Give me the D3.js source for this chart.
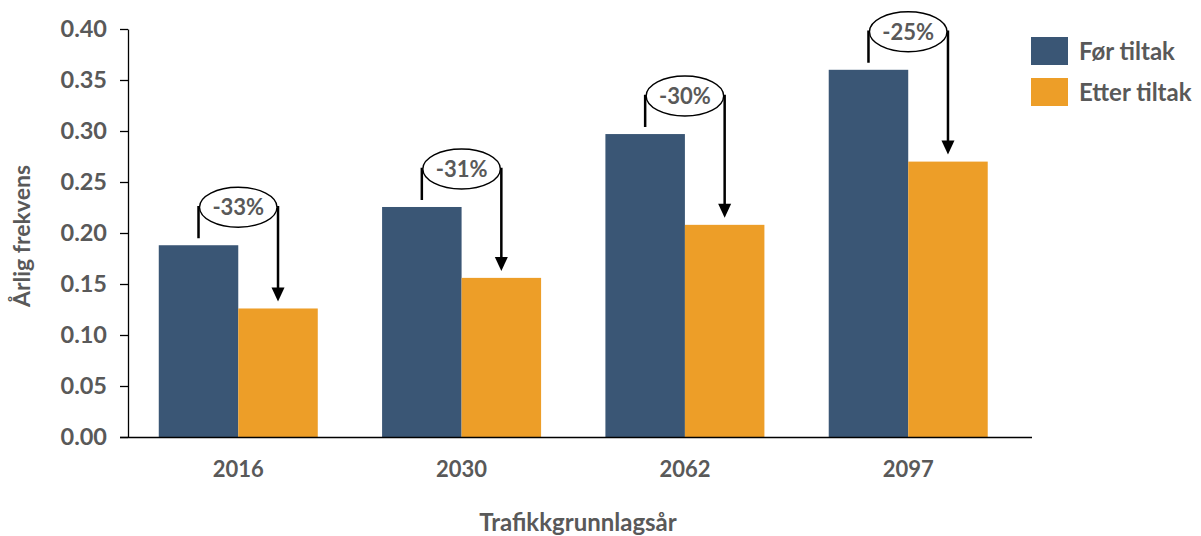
<!DOCTYPE html>
<html>
<head>
<meta charset="utf-8">
<script src="https://cdn.jsdelivr.net/npm/d3@7"></script>
<style>
  html, body { margin: 0; padding: 0; background: #fff; }
  svg { display: block; font-family: Lato, "Open Sans", sans-serif; font-weight: bold; }
</style>
</head>
<body>
<svg id="chart" width="1201" height="536"></svg>
<script>
// Annual frequency per traffic base year, before and after measures
const years = ["2016", "2030", "2062", "2097"];
const seriesNames = ["Før tiltak", "Etter tiltak"];
const beforeValues = [0.188, 0.2255, 0.297, 0.36];
const afterValues = [0.126, 0.156, 0.208, 0.27];
const changeLabels = ["-33%", "-31%", "-30%", "-25%"];
const yTicks = [0, 0.05, 0.1, 0.15, 0.2, 0.25, 0.3, 0.35, 0.4];
const colors = ["#3A5675", "#ED9E28"];
const textColor = "#595959";

const rows = years.map((y, i) => ({ year: y, values: [beforeValues[i], afterValues[i]], label: changeLabels[i] }));

const svg = d3.select("#chart");
const plot = { left: 128, right: 1032, top: 29, bottom: 437 };

const y = d3.scaleLinear().domain([0, 0.4]).range([plot.bottom, plot.top]);
const x0 = d3.scaleBand().domain(years).range([plot.left, plot.right])
  .paddingInner(0.288).paddingOuter(0.168).align(0.41);
const x1 = d3.scaleBand().domain(seriesNames).range([0, x0.bandwidth()]);

// Bars
const groups = svg.append("g").selectAll("g").data(rows).join("g")
  .attr("transform", d => `translate(${x0(d.year)},0)`);
groups.selectAll("rect").data(d => d.values.map((v, i) => ({ v, i })))
  .join("rect")
  .attr("x", d => x1(seriesNames[d.i]))
  .attr("width", x1.bandwidth())
  .attr("y", d => y(d.v))
  .attr("height", d => y(0) - y(d.v))
  .attr("fill", d => colors[d.i]);

// Y axis
const yAxis = svg.append("g").attr("transform", `translate(${plot.left},0)`)
  .call(d3.axisLeft(y).tickValues(yTicks).tickFormat(d3.format(".2f")).tickSize(8).tickSizeOuter(0).tickPadding(13));
yAxis.select(".domain").attr("stroke", "#000").attr("stroke-width", 1.3);
yAxis.selectAll(".tick line").attr("stroke", "#000").attr("stroke-width", 1.3);
yAxis.selectAll(".tick text").attr("fill", textColor).style("font-size", "23.5px").style("font-weight", "bold").style("font-family", "Lato");

// X axis
const xAxis = svg.append("g").attr("transform", `translate(0,${plot.bottom})`)
  .call(d3.axisBottom(x0).tickSize(0).tickPadding(24));
xAxis.select(".domain").attr("d", `M${plot.left - 8},0.5H${plot.right}`).attr("stroke", "#000").attr("stroke-width", 1.3);
xAxis.selectAll(".tick text").attr("fill", textColor).style("font-size", "22px").style("font-weight", "bold").style("font-family", "Lato");

// Axis titles
svg.append("text").attr("x", 578).attr("y", 522).attr("dy", "0.36em").attr("text-anchor", "middle")
  .attr("fill", textColor).style("font-size", "24px").text("Trafikkgrunnlagsår");
svg.append("text").attr("transform", "translate(22,236) rotate(-90)").attr("dy", "0.36em").attr("text-anchor", "middle")
  .attr("fill", textColor).style("font-size", "23px").text("Årlig frekvens");

// Change annotations: bracket from the "before" bar to an arrow on the "after" bar
const ann = svg.append("g");
rows.forEach(d => {
  const xa = x0(d.year) + x1(seriesNames[0]) + x1.bandwidth() / 2;
  const xb = x0(d.year) + x1(seriesNames[1]) + x1.bandwidth() / 2;
  const yTopA = y(d.values[0]);
  const yTopB = y(d.values[1]);
  const cy = yTopA - 38;
  const tipY = yTopB - 7;
  ann.append("path")
    .attr("d", `M${xa},${yTopA - 7}V${cy}H${xb}V${tipY - 13}`)
    .attr("fill", "none").attr("stroke", "#000").attr("stroke-width", 2.5);
  ann.append("path")
    .attr("d", `M${xb - 6.5},${tipY - 14}L${xb + 6.5},${tipY - 14}L${xb},${tipY}Z`)
    .attr("fill", "#000");
  ann.append("ellipse")
    .attr("cx", (xa + xb) / 2).attr("cy", cy)
    .attr("rx", (xb - xa) / 2 - 1).attr("ry", 20)
    .attr("fill", "#fff").attr("stroke", "#000").attr("stroke-width", 1.4);
  ann.append("text")
    .attr("x", (xa + xb) / 2).attr("y", cy).attr("dy", "0.36em")
    .attr("text-anchor", "middle").attr("fill", textColor)
    .style("font-size", "22px").text(d.label);
});

// Legend
const legend = svg.append("g").attr("transform", "translate(1031,37)");
seriesNames.forEach((name, i) => {
  const g = legend.append("g").attr("transform", `translate(0,${i * 41})`);
  g.append("rect").attr("width", 37).attr("height", 28).attr("fill", colors[i]);
  g.append("text").attr("x", 48).attr("y", 14).attr("dy", "0.36em")
    .attr("fill", textColor).style("font-size", "24px").text(name);
});
</script>
</body>
</html>
